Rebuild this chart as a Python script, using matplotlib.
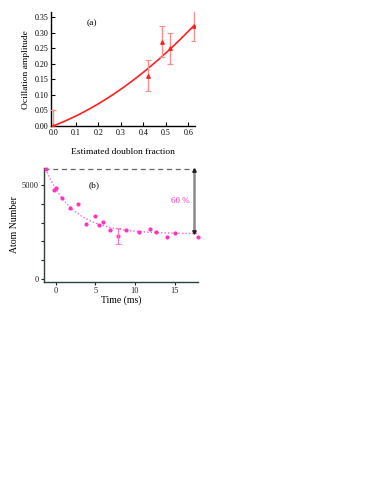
import numpy as np
import matplotlib
matplotlib.use("Agg")
import matplotlib.pyplot as plt

plt.rcParams['font.family'] = ['Liberation Serif', 'DejaVu Serif']

# Panel (a) data
frac = [0.0, 0.423, 0.482, 0.52, 0.625]
amp = [0.0, 0.161, 0.271, 0.25, 0.323]
amp_err = [0.05, 0.05, 0.05, 0.05, 0.05]
fit_a_lin = 0.279
fit_a_quad = 0.381

# Panel (b) data
t_ms = [-1.3, -0.2, 0.0, 0.8, 1.8, 2.8, 3.8, 4.9, 5.45, 5.9, 6.85, 7.9,
        8.85, 10.5, 11.95, 12.6, 14.0, 15.0, 17.9]
atoms = [5850, 4730, 4830, 4330, 3760, 3970, 2910, 3350, 2860, 3015, 2600,
         2290, 2590, 2520, 2640, 2520, 2220, 2450, 2220]
err_t = [7.9]
err_n = [2290]
err_size = [430]
fit_inf, fit_amp, fit_t0, fit_tau = 2400, 3450, -1.3, 3.5
top_level = 5850
bottom_level = 2440
arrow_t = 17.45

red = '#ff2020'
pink = '#ff33bb'

fig = plt.figure(figsize=(3.82, 4.94), dpi=100)

# ---------- Panel (a)
ax = fig.add_axes([51/382, 1-126.5/494, 144/382, 114.5/494])
xf = np.linspace(0, 0.625, 100)
ax.plot(xf, fit_a_lin*xf + fit_a_quad*xf**2, color=red, lw=1.2, zorder=3)
ax.errorbar(frac, amp, yerr=amp_err, fmt='^', color=red, ms=2.5,
            ecolor='#ff8c8c', elinewidth=1.0, capsize=2, capthick=0.8, zorder=4)
ax.set_xlim(-0.01, 0.63)
ax.set_ylim(-0.002, 0.367)
ax.set_xticks([0.0, 0.1, 0.2, 0.3, 0.4, 0.5, 0.6])
ax.set_yticks([0.0, 0.05, 0.1, 0.15, 0.2, 0.25, 0.3, 0.35])
ax.set_xticklabels(['0.0', '0.1', '0.2', '0.3', '0.4', '0.5', '0.6'])
ax.set_yticklabels(['0.00', '0.05', '0.10', '0.15', '0.20', '0.25', '0.30', '0.35'])
ax.tick_params(direction='in', length=3, width=0.8, labelsize=5.8, pad=2)
for s in ['top', 'right']:
    ax.spines[s].set_visible(False)
for s in ['left', 'bottom']:
    ax.spines[s].set_linewidth(1.0)
ax.set_xlabel('Estimated doublon fraction', fontsize=6.8, labelpad=8)
ax.set_ylabel('Ocillation amplitude', fontsize=6.8, labelpad=3)
ax.text(0.17, 0.33, '(a)', fontsize=6.8, ha='center', va='center')

# ---------- Panel (b)
bx = fig.add_axes([44/382, 1-281.7/494, 154.3/382, 113.7/494])
tf = np.linspace(-1.3, 18, 200)
bx.plot(tf, fit_inf + fit_amp*np.exp(-(tf-fit_t0)/fit_tau), ls=(0, (1, 1.5)),
        color='#ff66cc', lw=1.0, zorder=2)
bx.plot(t_ms, atoms, 'o', color=pink, ms=2.0, zorder=3, clip_on=False)
bx.errorbar(err_t, err_n, yerr=err_size, fmt='none', ecolor='#ff77cc',
            elinewidth=0.9, capsize=2, capthick=0.7, zorder=3)
bx.plot([-1.5, arrow_t], [top_level, top_level], ls=(0, (4, 3)), color='#666666',
        lw=0.9, clip_on=False)
bx.plot([arrow_t, arrow_t], [top_level, bottom_level], color='#8a8a8a', lw=1.8,
        solid_capstyle='butt')
bx.plot([arrow_t], [top_level - 60], marker='^', color='#222222', ms=2.5)
bx.plot([arrow_t], [bottom_level + 60], marker='v', color='#222222', ms=2.5)
bx.text(15.7, 4150, '60 %', color=pink, fontsize=6.5, ha='center', va='center')
bx.text(4.8, 5000, '(b)', fontsize=6.8, ha='center', va='center')
bx.set_xlim(-1.5, 18.0)
bx.set_ylim(-150, 5900)
bx.set_xticks([0, 5, 10, 15])
bx.set_yticks([0, 1000, 2000, 3000, 4000, 5000])
bx.set_yticklabels(['0', '', '', '', '', '5000'])
bx.tick_params(direction='out', length=2.5, width=0.8, labelsize=6, pad=1.5,
               colors='#222222')
for s in ['top', 'right']:
    bx.spines[s].set_visible(False)
for s in ['left', 'bottom']:
    bx.spines[s].set_color('#2f3f3f')
    bx.spines[s].set_linewidth(1.0)
bx.set_xlabel('Time (ms)', fontsize=7, labelpad=0)
bx.set_ylabel('Atom Number', fontsize=7, labelpad=2)

fig.savefig('out.png', dpi=100)
